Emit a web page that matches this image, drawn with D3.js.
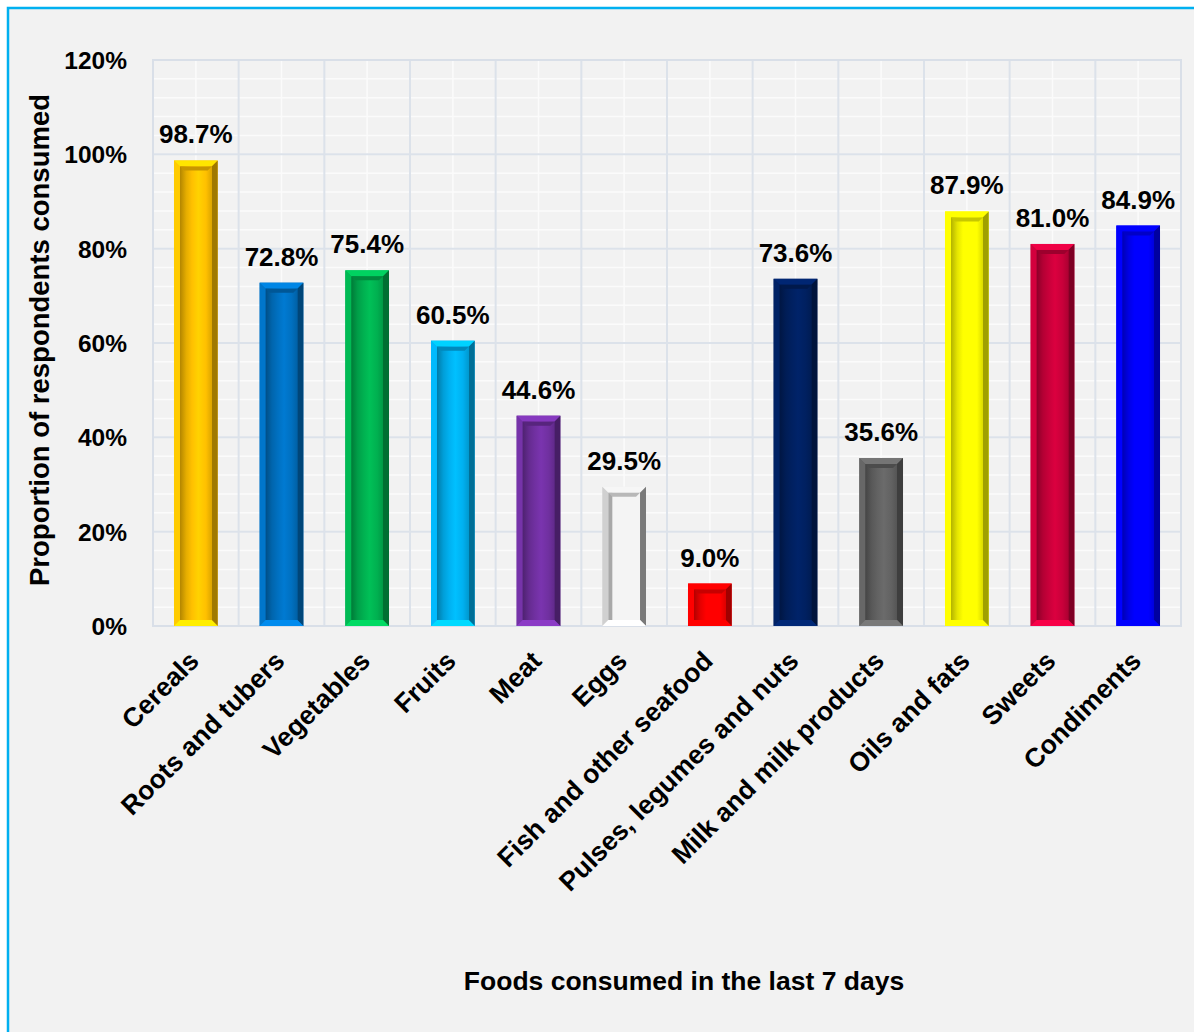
<!DOCTYPE html>
<html>
<head>
<meta charset="utf-8">
<script src="https://cdn.jsdelivr.net/npm/d3@7"></script>
<style>
  html, body { margin: 0; padding: 0; background: #ffffff; }
  svg { display: block; }
  text { font-family: "Liberation Sans", Arial, sans-serif; font-weight: bold; fill: #000; }
</style>
</head>
<body>
<svg id="chart" width="1194" height="1032"></svg>
<script>
// Food groups and share of respondents who consumed each in the last 7 days
const categories = ["Cereals", "Roots and tubers", "Vegetables", "Fruits", "Meat", "Eggs",
  "Fish and other seafood", "Pulses, legumes and nuts", "Milk and milk products",
  "Oils and fats", "Sweets", "Condiments"];
const values = [0.987, 0.728, 0.754, 0.605, 0.446, 0.295, 0.090, 0.736, 0.356, 0.879, 0.810, 0.849];
const barColors = ["#ffc000", "#0070c0", "#00b050", "#00b0f0", "#7030a0", "#e9e9e9",
  "#ff0000", "#002060", "#626262", "#ffff00", "#c8003a", "#0000ff"];
const yTickValues = [0, 0.2, 0.4, 0.6, 0.8, 1.0, 1.2];

const svg = d3.select("#chart");
const W = 1194, H = 1032;
const plot = { left: 153, right: 1181, top: 60, bottom: 626 };

// Outer panel with blue frame
svg.append("rect").attr("x", 8).attr("y", 8).attr("width", W + 20).attr("height", H + 20)
  .attr("fill", "#f2f2f2").attr("stroke", "#00b0f0").attr("stroke-width", 2.5);

const x = d3.scaleBand().domain(categories).range([plot.left, plot.right])
  .paddingInner(0.49).paddingOuter(0.245);
const y = d3.scaleLinear().domain([0, 1.2]).range([plot.bottom, plot.top]);
const step = x.step();

const grid = svg.append("g");
// minor gridlines (lighter than the background)
grid.selectAll("line.hmin").data(d3.range(0, 1.2001, 0.04)).join("line")
  .attr("x1", plot.left).attr("x2", plot.right)
  .attr("y1", d => y(d)).attr("y2", d => y(d))
  .attr("stroke", "#fbfbfb").attr("stroke-width", 1.5);
grid.selectAll("line.vmin").data(categories).join("line")
  .attr("x1", d => x(d) + x.bandwidth() / 2).attr("x2", d => x(d) + x.bandwidth() / 2)
  .attr("y1", plot.top).attr("y2", plot.bottom)
  .attr("stroke", "#fbfbfb").attr("stroke-width", 1.5);
// major gridlines
grid.selectAll("line.hmaj").data(yTickValues).join("line")
  .attr("x1", plot.left).attr("x2", plot.right)
  .attr("y1", d => y(d)).attr("y2", d => y(d))
  .attr("stroke", "#dce2ea").attr("stroke-width", 2);
grid.selectAll("line.vmaj").data(d3.range(categories.length + 1)).join("line")
  .attr("x1", i => plot.left + i * step).attr("x2", i => plot.left + i * step)
  .attr("y1", plot.top).attr("y2", plot.bottom)
  .attr("stroke", "#dce2ea").attr("stroke-width", 2);
svg.append("rect").attr("x", plot.left).attr("y", plot.top)
  .attr("width", plot.right - plot.left).attr("height", plot.bottom - plot.top)
  .attr("fill", "none").attr("stroke", "#d9dfe8").attr("stroke-width", 2);

// Gradients for the bevelled bar faces
const defs = svg.append("defs");
barColors.forEach((c, i) => {
  const base = d3.color(c);
  const g = defs.append("linearGradient").attr("id", "face" + i)
    .attr("x1", "0").attr("x2", "1").attr("y1", "0").attr("y2", "0");
  const stops = [
    [0, base.darker(1.0)], [0.2, base.darker(0.3)], [0.38, base],
    [0.58, base.brighter(0.25)], [0.82, base], [1, base.darker(0.4)]
  ];
  stops.forEach(([o, col]) => g.append("stop").attr("offset", o).attr("stop-color", col.formatHex()));
});

const b = 6;
const bars = svg.append("g").selectAll("g").data(categories).join("g");
bars.each(function (d, i) {
  const gEl = d3.select(this);
  const x0 = x(d), w = x.bandwidth();
  const y0 = y(values[i]), h = y(0) - y(values[i]);
  const base = d3.color(barColors[i]);
  const isLight = i === 5;
  const poly = (pts, fill) => gEl.append("polygon")
    .attr("points", pts.map(p => p.join(",")).join(" ")).attr("fill", fill);
  gEl.append("rect").attr("x", x0).attr("y", y0).attr("width", w).attr("height", h)
    .attr("fill", base.formatHex());
  // top bevel
  poly([[x0, y0], [x0 + w, y0], [x0 + w - b, y0 + b], [x0 + b, y0 + b]],
    (isLight ? d3.color("#f6f6f6") : base.brighter(0.5)).formatHex());
  // left bevel
  poly([[x0, y0], [x0 + b, y0 + b], [x0 + b, y0 + h - b], [x0, y0 + h]],
    (isLight ? d3.color("#d0d0d0") : base.brighter(0.15)).formatHex());
  // right bevel
  poly([[x0 + w, y0], [x0 + w, y0 + h], [x0 + w - b, y0 + h - b], [x0 + w - b, y0 + b]],
    (isLight ? d3.color("#7a7a7a") : base.darker(1.3)).formatHex());
  // bottom bevel
  poly([[x0, y0 + h], [x0 + b, y0 + h - b], [x0 + w - b, y0 + h - b], [x0 + w, y0 + h]],
    (isLight ? d3.color("#ffffff") : base.brighter(0.6)).formatHex());
  // inner face
  gEl.append("rect").attr("x", x0 + b).attr("y", y0 + b)
    .attr("width", w - 2 * b).attr("height", Math.max(0, h - 2 * b))
    .attr("fill", isLight ? "#f4f4f4" : `url(#face${i})`);
  if (isLight) {
    gEl.append("rect").attr("x", x0 + b).attr("y", y0 + b).attr("width", 4)
      .attr("height", Math.max(0, h - 2 * b)).attr("fill", "#a8a8a8");
  }
  // inner top shadow
  poly([[x0 + b, y0 + b], [x0 + w - b, y0 + b], [x0 + w - b - 4, y0 + b + 4], [x0 + b + 4, y0 + b + 4]],
    (isLight ? d3.color("#b8b8b8") : base.darker(0.7)).formatHex());
});

// Value labels
svg.append("g").selectAll("text").data(categories).join("text")
  .attr("x", d => x(d) + x.bandwidth() / 2)
  .attr("y", (d, i) => y(values[i]) - 17)
  .attr("text-anchor", "middle").attr("font-size", 26)
  .text((d, i) => (values[i] * 100).toFixed(1) + "%");

// Y axis tick labels
const yAxis = d3.axisLeft(y).tickValues(yTickValues).tickFormat(d3.format(".0%"))
  .tickSize(0).tickPadding(0);
const yg = svg.append("g").attr("transform", `translate(127,0)`).call(yAxis);
yg.select(".domain").remove();
yg.selectAll("text").attr("font-size", 24.5).attr("font-family", null).attr("fill", "#000")
  .attr("dy", "0.35em");

// X axis category labels, rotated
const xAxis = d3.axisBottom(x).tickSize(0).tickPadding(0);
const xg = svg.append("g").attr("transform", `translate(0,${plot.bottom})`).call(xAxis);
xg.select(".domain").remove();
xg.selectAll("text").attr("font-size", 26.5).attr("font-family", null).attr("fill", "#000")
  .attr("text-anchor", "end")
  .attr("transform", "translate(-2,30) rotate(-45)")
  .attr("dy", "0.35em").attr("y", 0);

// Axis titles
svg.append("text").attr("transform", "translate(49,340) rotate(-90)")
  .attr("text-anchor", "middle").attr("font-size", 27.5)
  .text("Proportion of respondents consumed");
svg.append("text").attr("x", 684).attr("y", 990)
  .attr("text-anchor", "middle").attr("font-size", 26.5)
  .text("Foods consumed in the last 7 days");
</script>
</body>
</html>
